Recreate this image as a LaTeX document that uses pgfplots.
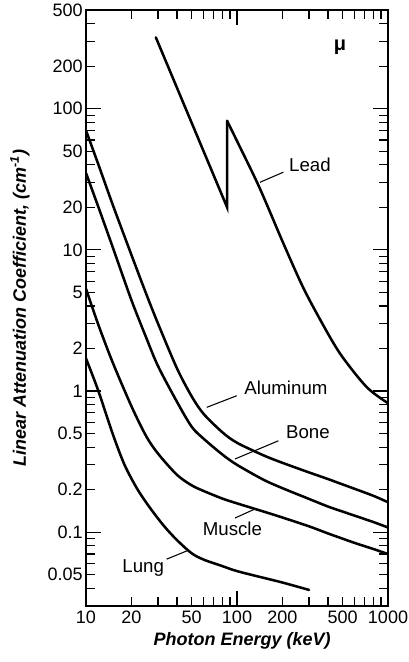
\documentclass[border=0pt]{standalone}
\usepackage{fontspec}
\setmainfont{Liberation Sans}
\usepackage{pgfplots}
\pgfplotsset{compat=1.18}
\begin{document}
\begin{tikzpicture}
\begin{axis}[
    name=ax,
    scale only axis,
    width=226.5pt, height=447pt,
    xmode=log, ymode=log,
    xmin=10, xmax=1000, ymin=0.03, ymax=500,
    axis line style={line width=1.3pt},
    tick align=inside,
    tick style={black, line width=0.9pt},
    major tick length=6.5pt, minor tick length=6.5pt,
    xtick={10,20,50,100,200,500,1000},
    xticklabels={10,20,50,100,200,500,1000},
    minor xtick={30,40,60,70,80,90,300,400,600,700,800,900},
    extra x ticks={100},
    extra x tick labels={},
    extra x tick style={major tick length=11pt},
    ytick={0.05,0.1,0.2,0.5,1,2,5,10,20,50,100,200,500},
    yticklabels={0.05,0.1,0.2,0.5,1,2,5,10,20,50,100,200,500},
    minor ytick={0.03,0.04,0.06,0.07,0.08,0.09,0.3,0.4,0.6,0.7,0.8,0.9,3,4,6,7,8,9,30,40,60,70,80,90,300,400},
    extra y ticks={0.1,1,10,100},
    extra y tick labels={},
    extra y tick style={major tick length=11pt},
    tick label style={font=\fontsize{13.5}{15}\selectfont},
    yticklabel style={xshift=1pt},
    xlabel={Photon Energy (keV)},
    ylabel={Linear Attenuation Coefficient, (cm\textsuperscript{-1})},
    every axis x label/.style={at={(axis description cs:0.517,-0.059)}, anchor=center,
        font=\fontsize{13.5}{16}\selectfont\bfseries\itshape},
    every axis y label/.style={at={(axis description cs:-0.2185,0.5)}, anchor=center, rotate=90,
        font=\fontsize{13.5}{16}\selectfont\bfseries\itshape},
    every axis plot/.append style={black, line width=1.9pt, line cap=round, line join=round},
]

% Lead, below and above the K-edge
\addplot[sharp plot, line join=miter] coordinates {
    (29,320) (86,20) (86,82)
};
\addplot[smooth] coordinates {
    (86,82) (100,59) (140,28) (200,11.5) (270,5.6) (350,3.3)
    (480,1.85) (720,1.07) (1000,0.82)
};

% Aluminum
\addplot[smooth] coordinates {
    (10,70) (12,41) (15,21) (20,9.2) (25,4.9) (30,3.0) (40,1.45)
    (50,0.92) (60,0.69) (80,0.51) (100,0.43) (150,0.35) (200,0.31)
    (300,0.265) (400,0.238) (500,0.218) (600,0.203) (800,0.181) (1000,0.163)
};

% Bone
\addplot[smooth] coordinates {
    (10,35) (12,20.5) (15,10.5) (20,4.4) (25,2.4) (30,1.5) (40,0.84)
    (50,0.56) (60,0.46) (80,0.355) (100,0.3) (150,0.235) (200,0.205)
    (300,0.172) (400,0.152) (500,0.14) (600,0.131) (800,0.118) (1000,0.108)
};

% Muscle
\addplot[smooth] coordinates {
    (10,5.3) (12,3.0) (15,1.6) (20,0.78) (25,0.48) (30,0.36) (40,0.255)
    (50,0.215) (60,0.196) (80,0.173) (100,0.16) (150,0.14) (200,0.127)
    (300,0.11) (400,0.098) (500,0.09) (600,0.084) (800,0.076) (1000,0.07)
};

% Lung
\addplot[smooth] coordinates {
    (10,1.7) (12,1.02) (15,0.5) (18,0.3) (22,0.2) (27,0.145) (33,0.11)
    (40,0.088) (50,0.071) (60,0.064) (80,0.0575) (100,0.053) (150,0.0475)
    (200,0.044) (300,0.039)
};

% labels and leader lines
\begin{scope}[font=\fontsize{14}{16}\selectfont]
\node at (axis cs:304,40.3) {Lead};
\node at (axis cs:211,1.047) {Aluminum};
\node at (axis cs:295,0.509) {Bone};
\node at (axis cs:93.3,0.105) {Muscle};
\node at (axis cs:23.9,0.0556) {Lung};
\end{scope}
\node[font=\fontsize{15}{17}\selectfont\bfseries] at (axis cs:481,272) {μ};
\begin{scope}[line width=0.8pt]
\draw (axis cs:142,30.1) -- (axis cs:203,35.5);
\draw (axis cs:63,0.766) -- (axis cs:99.6,0.926);
\draw (axis cs:97,0.33) -- (axis cs:188,0.444);
\draw (axis cs:97,0.126) -- (axis cs:131.6,0.146);
\draw (axis cs:34.2,0.0644) -- (axis cs:46.4,0.0736);
\end{scope}
\end{axis}
\pgfresetboundingbox
\path[use as bounding box] ([xshift=-64.5pt,yshift=-42pt]ax.south west)
    rectangle ([xshift=15pt,yshift=7.5pt]ax.north east);
\end{tikzpicture}
\end{document}
